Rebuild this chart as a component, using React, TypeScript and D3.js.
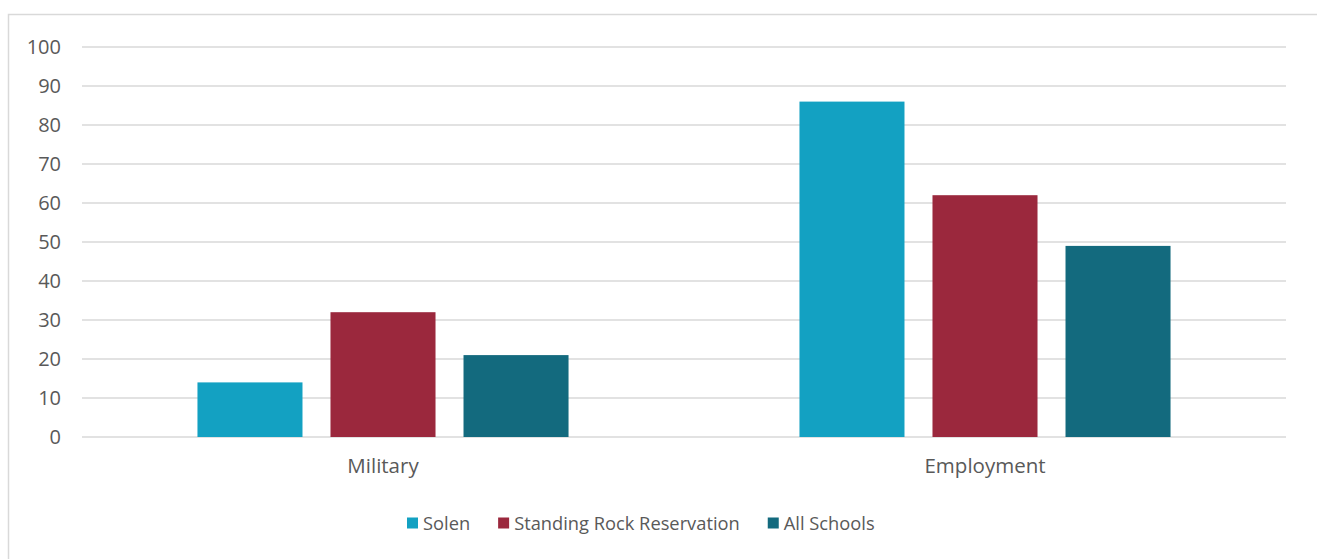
import React, { useEffect, useRef } from "react";
import * as d3 from "d3";

const categories = ["Military", "Employment"];
const seriesNames = ["Solen", "Standing Rock Reservation", "All Schools"];
const solen = [14, 86];
const standingRock = [32, 62];
const allSchools = [21, 49];
const seriesColors = ["#13A1C2", "#9B283D", "#136A7E"];
const yTicks = [0, 10, 20, 30, 40, 50, 60, 70, 80, 90, 100];

const W = 1317;
const H = 559;
const FONT = "'Open Sans', sans-serif";

export default function App() {
  const ref = useRef<SVGSVGElement | null>(null);

  useEffect(() => {
    const svg = d3.select(ref.current);
    svg.selectAll("*").remove();

    const values = [solen, standingRock, allSchools];
    const left = 82, right = 1286, top = 47, bottom = 437;

    svg.append("rect")
      .attr("x", 8.5).attr("y", 14.5)
      .attr("width", W + 20).attr("height", H + 20)
      .attr("fill", "#fff").attr("stroke", "#d9d9d9").attr("stroke-width", 1.5);

    const y = d3.scaleLinear().domain([0, 100]).range([bottom, top]);
    const x0 = d3.scaleBand<string>().domain(categories).range([left, right]).padding(0);
    const x1 = d3.scaleBand<string>().domain(seriesNames).range([0, x0.bandwidth()])
      .paddingInner(0.2105).paddingOuter(0.868);

    const grid = svg.append("g");
    grid.selectAll("line").data(yTicks).join("line")
      .attr("x1", left).attr("x2", right)
      .attr("y1", d => y(d)).attr("y2", d => y(d))
      .attr("stroke", "#d9d9d9").attr("stroke-width", 1.5);

    svg.append("g").selectAll("text").data(yTicks).join("text")
      .attr("x", 61).attr("y", d => y(d))
      .attr("dy", "0.36em")
      .attr("text-anchor", "end")
      .attr("font-family", FONT).attr("font-size", 20).attr("fill", "#595959")
      .text(d => String(d));

    const groups = svg.append("g").selectAll("g").data(categories).join("g")
      .attr("transform", c => `translate(${x0(c)},0)`);
    groups.selectAll("rect")
      .data((c, ci) => seriesNames.map((s, si) => ({ s, si, v: values[si][ci] })))
      .join("rect")
      .attr("x", d => x1(d.s)!)
      .attr("width", x1.bandwidth())
      .attr("y", d => y(d.v))
      .attr("height", d => bottom - y(d.v))
      .attr("fill", d => seriesColors[d.si]);

    svg.append("g").selectAll("text").data(categories).join("text")
      .attr("x", c => x0(c)! + x0.bandwidth() / 2)
      .attr("y", 466)
      .attr("dy", "0.36em")
      .attr("text-anchor", "middle")
      .attr("font-family", FONT).attr("font-size", 20.5).attr("fill", "#595959")
      .text(c => c);

    // legend
    const lg = svg.append("g");
    const items = lg.selectAll("g").data(seriesNames).join("g");
    items.append("rect").attr("width", 11).attr("height", 11).attr("y", -5.5)
      .attr("fill", (d, i) => seriesColors[i]);
    items.append("text").attr("x", 16).attr("dy", "0.36em")
      .attr("font-family", FONT).attr("font-size", 18.3).attr("fill", "#595959")
      .text(d => d);
    const widths: number[] = [];
    items.each(function () {
      const t = d3.select(this).select("text").node() as SVGTextElement;
      widths.push(16 + t.getComputedTextLength());
    });
    const gap = 28;
    let cx = 407;
    items.attr("transform", (d, i) => {
      const tx = cx;
      cx += widths[i] + gap;
      return `translate(${tx},523)`;
    });
  }, []);

  return (
    <svg ref={ref} width={W} height={H} style={{ position: "absolute", left: 0, top: 0 }} />
  );
}
